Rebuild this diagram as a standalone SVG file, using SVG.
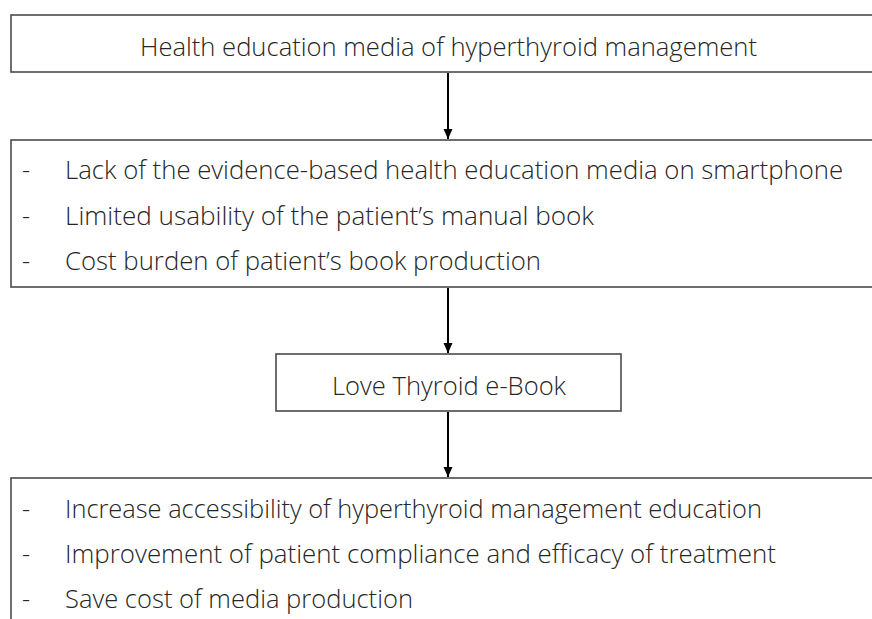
<svg xmlns="http://www.w3.org/2000/svg" width="872" height="619" viewBox="0 0 872 619">
<defs>
<style>
.box{fill:#fff;stroke:#4a4a4a;stroke-width:1.6}
.t{font-family:"Open Sans","Noto Sans","Liberation Sans",sans-serif;font-size:25px;font-weight:300;fill:#262626}
.c{stroke:#000;stroke-width:2;fill:none}
</style>
<marker id="ah" markerWidth="10" markerHeight="10" viewBox="0 0 10 10" refX="10" refY="5" orient="auto" markerUnits="userSpaceOnUse">
<path d="M0,0.5 L10,5 L0,9.5 Z" fill="#000"/>
</marker>
</defs>
<rect width="872" height="619" fill="#fff"/>
<g id="node-media">
<rect class="box" x="11" y="15" width="875" height="57"/>
<text class="t" x="140" y="56" textLength="617" lengthAdjust="spacingAndGlyphs">Health education media of hyperthyroid management</text>
</g>
<g id="node-problems">
<rect class="box" x="11" y="140" width="875" height="147"/>
<text class="t" x="22" y="179">-</text>
<text class="t" x="65" y="179" textLength="778" lengthAdjust="spacingAndGlyphs">Lack of the evidence-based health education media on smartphone</text>
<text class="t" x="22" y="225">-</text>
<text class="t" x="65" y="225" textLength="529" lengthAdjust="spacingAndGlyphs">Limited usability of the patient’s manual book</text>
<text class="t" x="22" y="270">-</text>
<text class="t" x="65" y="270" textLength="476" lengthAdjust="spacingAndGlyphs">Cost burden of patient’s book production</text>
</g>
<g id="node-ebook">
<rect class="box" x="276" y="354" width="345" height="57"/>
<text class="t" x="332" y="395" textLength="234" lengthAdjust="spacingAndGlyphs">Love Thyroid e-Book</text>
</g>
<g id="node-outcomes">
<rect class="box" x="11" y="478" width="875" height="160"/>
<text class="t" x="22" y="518">-</text>
<text class="t" x="65" y="518" textLength="697" lengthAdjust="spacingAndGlyphs">Increase accessibility of hyperthyroid management education</text>
<text class="t" x="22" y="563">-</text>
<text class="t" x="65" y="563" textLength="711" lengthAdjust="spacingAndGlyphs">Improvement of patient compliance and efficacy of treatment</text>
<text class="t" x="22" y="608">-</text>
<text class="t" x="65" y="608" textLength="348" lengthAdjust="spacingAndGlyphs">Save cost of media production</text>
</g>
<g id="connectors">
<line class="c" x1="448" y1="73" x2="448" y2="139" marker-end="url(#ah)"/>
<line class="c" x1="448" y1="288" x2="448" y2="353" marker-end="url(#ah)"/>
<line class="c" x1="448" y1="412" x2="448" y2="477" marker-end="url(#ah)"/>
</g>
</svg>
